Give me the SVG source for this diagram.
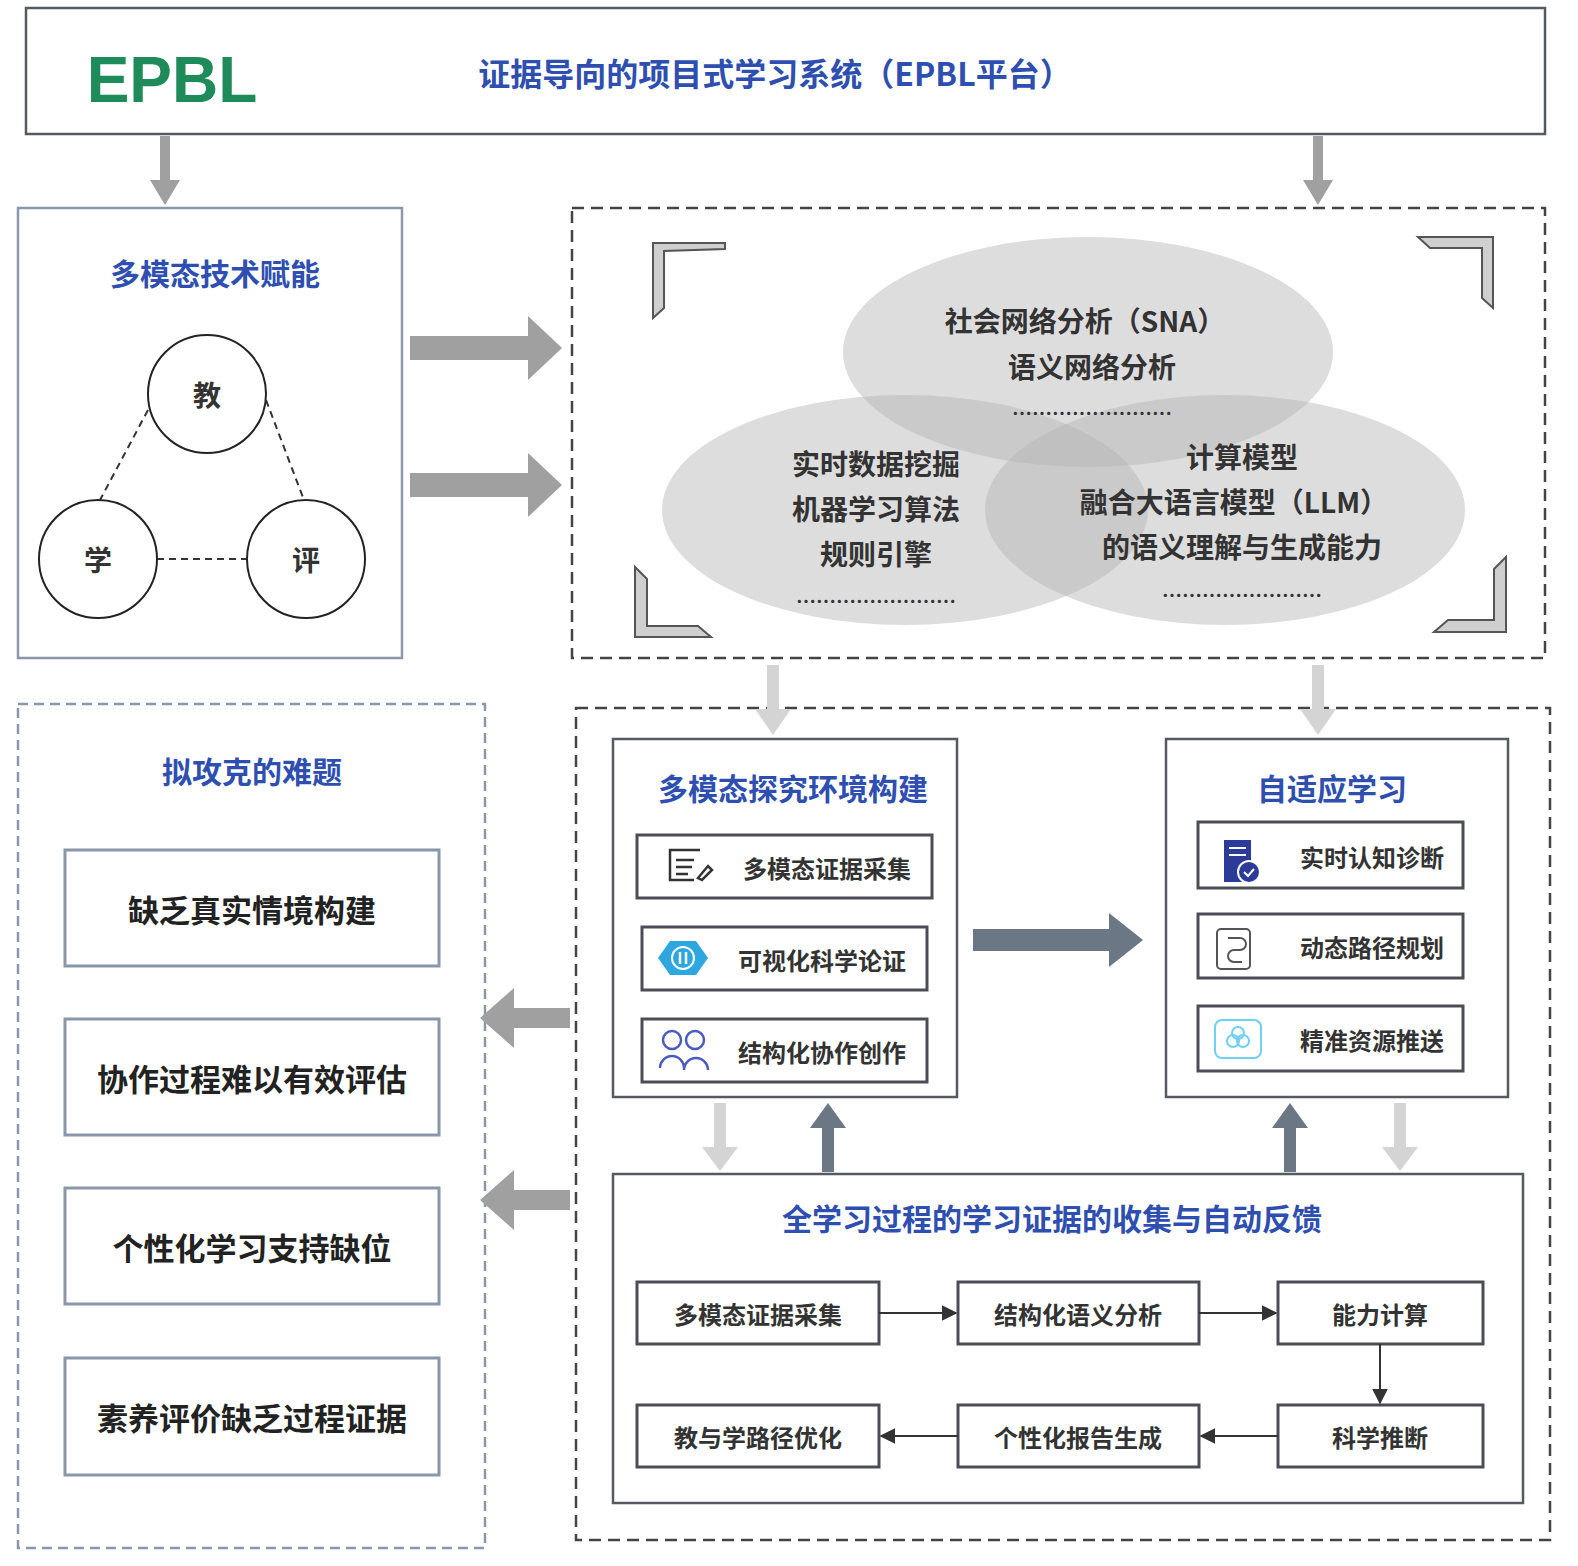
<svg xmlns="http://www.w3.org/2000/svg" width="1578" height="1566" viewBox="0 0 1578 1566">
<defs>
<style>
text{font-family:"Noto Sans CJK SC","Liberation Sans",sans-serif;text-anchor:middle;dominant-baseline:central}
.box{fill:#fff;stroke:#555a60;stroke-width:2.5}
.sub{fill:#fff;stroke:#4a4e54;stroke-width:3}
.dash{fill:none;stroke:#444;stroke-width:2.5;stroke-dasharray:12 7}
.dash2{fill:none;stroke:#8a96aa;stroke-width:2.5;stroke-dasharray:10 6}
.blue{fill:#2f4fb0;font-weight:700;font-size:30px}
.t{fill:#333;font-weight:700;font-size:24px}
.big{fill:#222;font-weight:700;font-size:31px}
.ell{fill:#b4b4b4;fill-opacity:0.45}
.et{fill:#333;font-weight:700;font-size:28px}
.br{fill:#cfcfcf;stroke:#555;stroke-width:2}
</style>
<marker id="ah" viewBox="0 0 10 10" refX="9" refY="5" markerWidth="8" markerHeight="8" orient="auto"><path d="M0,0 L10,5 L0,10z" fill="#333"/></marker>
</defs>

<g id="top"><rect x="26" y="8" width="1519" height="126" class="box"/>
<text x="172" y="80" style="font-size:64px;fill:#1f8a5a;font-family:'Liberation Sans',sans-serif;font-weight:700">EPBL</text>
<text x="775" y="72" class="blue" style="font-size:32px">证据导向的项目式学习系统（EPBL平台）</text></g>

<g id="tech"><rect x="18" y="208" width="384" height="450" fill="#fff" stroke="#8a96aa" stroke-width="2.5"/>
<text x="215" y="272" class="blue">多模态技术赋能</text>
<line x1="148" y1="410" x2="100" y2="500" stroke="#333" stroke-width="2" stroke-dasharray="7 5"/>
<line x1="266" y1="400" x2="304" y2="500" stroke="#333" stroke-width="2" stroke-dasharray="7 5"/>
<line x1="157" y1="559" x2="247" y2="559" stroke="#333" stroke-width="2" stroke-dasharray="7 5"/>
<circle cx="207" cy="394" r="59" fill="#fff" stroke="#222" stroke-width="2"/><text x="207" y="394" class="t" style="font-size:28px">教</text>
<circle cx="98" cy="559" r="59" fill="#fff" stroke="#222" stroke-width="2"/><text x="98" y="559" class="t" style="font-size:28px">学</text>
<circle cx="306" cy="559" r="59" fill="#fff" stroke="#222" stroke-width="2"/><text x="306" y="559" class="t" style="font-size:28px">评</text></g>

<g id="methods"><rect x="572" y="208" width="973" height="450" class="dash"/>
<ellipse cx="1088" cy="352" rx="245" ry="115" class="ell"/>
<ellipse cx="905" cy="510" rx="243" ry="115" class="ell"/>
<ellipse cx="1225" cy="510" rx="240" ry="115" class="ell"/>
<text x="1085" y="320" class="et">社会网络分析（SNA）</text>
<text x="1092" y="366" class="et">语义网络分析</text>
<text x="1092" y="412" class="et" style="font-size:20px">……………………</text>
<text x="876" y="463" class="et">实时数据挖掘</text>
<text x="876" y="508" class="et">机器学习算法</text>
<text x="876" y="553" class="et">规则引擎</text>
<text x="876" y="600" class="et" style="font-size:20px">……………………</text>
<text x="1242" y="456" class="et">计算模型</text>
<text x="1234" y="501" class="et">融合大语言模型（LLM）</text>
<text x="1242" y="546" class="et">的语义理解与生成能力</text>
<text x="1242" y="594" class="et" style="font-size:20px">……………………</text>
<path d="M653,318 L653,243 L725,243 L725,249 L664,251 L664,308 Z" class="br"/>
<path d="M1493,308 L1493,237 L1418,237 L1430,248 L1482,248 L1482,298 Z" class="br"/>
<path d="M635,637 L635,567 L647,579 L647,626 L698,626 L711,637 Z" class="br"/>
<path d="M1506,632 L1506,557 L1494,569 L1494,620 L1448,620 L1434,632 Z" class="br"/></g>

<g id="problems"><rect x="18" y="704" width="467" height="844" class="dash2"/>
<text x="252" y="770" class="blue">拟攻克的难题</text>
<rect x="65" y="850" width="374" height="116" fill="#fff" stroke="#8a96aa" stroke-width="3"/><text x="252" y="908" class="big">缺乏真实情境构建</text>
<rect x="65" y="1019" width="374" height="116" fill="#fff" stroke="#8a96aa" stroke-width="3"/><text x="252" y="1077" class="big">协作过程难以有效评估</text>
<rect x="65" y="1188" width="374" height="116" fill="#fff" stroke="#8a96aa" stroke-width="3"/><text x="252" y="1246" class="big">个性化学习支持缺位</text>
<rect x="65" y="1358" width="374" height="117" fill="#fff" stroke="#8a96aa" stroke-width="3"/><text x="252" y="1416" class="big">素养评价缺乏过程证据</text></g>

<g id="platform"><rect x="576" y="708" width="974" height="832" class="dash"/></g>

<g id="env"><rect x="613" y="739" width="344" height="358" class="box"/>
<text x="793" y="787" class="blue">多模态探究环境构建</text>
<rect x="637" y="835" width="295" height="63" class="sub"/><text x="827" y="867" class="t">多模态证据采集</text>
<g fill="none" stroke="#333" stroke-width="2.5"><path d="M700,850 H670 V880 H694"/><path d="M676,860 H694 M676,867 H692 M676,874 H688"/><path d="M698,878 L708,866 L712,870 L702,880 Z"/></g>
<rect x="642" y="927" width="285" height="63" class="sub"/><text x="822" y="959" class="t">可视化科学论证</text>
<polygon points="670,941 696,941 708,958 696,975 670,975 658,958" fill="#2ea7e0"/>
<circle cx="683" cy="958" r="11" fill="none" stroke="#fff" stroke-width="2"/><path d="M680,952 V964 M686,952 V964" stroke="#fff" stroke-width="2.5"/>
<rect x="642" y="1019" width="285" height="63" class="sub"/><text x="822" y="1051" class="t">结构化协作创作</text>
<g fill="none" stroke="#4a5bc0" stroke-width="2.5"><circle cx="672" cy="1040" r="9"/><circle cx="695" cy="1040" r="9"/><path d="M660,1068 a12,12 0 0 1 24,0 M684,1070 a12,12 0 0 1 24,0"/></g></g>

<g id="adapt"><rect x="1166" y="739" width="342" height="358" class="box"/>
<text x="1332" y="787" class="blue">自适应学习</text>
<rect x="1198" y="822" width="265" height="66" class="sub"/><text x="1372" y="856" class="t">实时认知诊断</text>
<rect x="1224" y="840" width="27" height="42" fill="#2c3a9a"/><path d="M1229,848 H1246 M1229,855 H1246" stroke="#fff" stroke-width="2"/>
<circle cx="1249" cy="872" r="11" fill="#2c3a9a" stroke="#fff" stroke-width="2"/><path d="M1244,872 l4,4 l6,-7" fill="none" stroke="#fff" stroke-width="2"/>
<rect x="1198" y="914" width="265" height="64" class="sub"/><text x="1372" y="946" class="t">动态路径规划</text>
<rect x="1217" y="929" width="33" height="40" rx="4" fill="none" stroke="#555" stroke-width="2"/><path d="M1228,938 h12 a6,6 0 0 1 0,12 h-6 a6,6 0 0 0 0,12 h8" fill="none" stroke="#555" stroke-width="2"/>
<rect x="1198" y="1006" width="265" height="65" class="sub"/><text x="1372" y="1039" class="t">精准资源推送</text>
<rect x="1215" y="1020" width="46" height="38" rx="7" fill="none" stroke="#6fd0f5" stroke-width="2"/><circle cx="1233" cy="1041" r="6" fill="none" stroke="#6fd0f5" stroke-width="2"/><circle cx="1243" cy="1041" r="6" fill="none" stroke="#6fd0f5" stroke-width="2"/><circle cx="1238" cy="1033" r="6" fill="none" stroke="#6fd0f5" stroke-width="2"/></g>

<g id="feedback"><rect x="613" y="1174" width="910" height="329" class="box"/>
<text x="1052" y="1217" class="blue">全学习过程的学习证据的收集与自动反馈</text>
<rect x="637" y="1282" width="242" height="62" class="sub"/><text x="758" y="1313" class="t">多模态证据采集</text>
<rect x="958" y="1282" width="241" height="62" class="sub"/><text x="1078" y="1313" class="t">结构化语义分析</text>
<rect x="1278" y="1282" width="205" height="62" class="sub"/><text x="1380" y="1313" class="t">能力计算</text>
<rect x="637" y="1405" width="242" height="62" class="sub"/><text x="758" y="1436" class="t">教与学路径优化</text>
<rect x="958" y="1405" width="241" height="62" class="sub"/><text x="1078" y="1436" class="t">个性化报告生成</text>
<rect x="1278" y="1405" width="205" height="62" class="sub"/><text x="1380" y="1436" class="t">科学推断</text></g>

<g id="connectors">
<g fill="#a0a0a0"><path d="M160,136 h10 v44 h10 l-15,25 l-15,-25 h10z"/><path d="M1313,136 h10 v44 h10 l-15,25 l-15,-25 h10z"/>
<path d="M410,336 h118 v-20 l34,32 l-34,32 v-20 h-118z"/><path d="M410,473 h118 v-20 l34,32 l-34,32 v-20 h-118z"/>
<path d="M570,1008 h-56 v-20 l-34,30 l34,30 v-20 h56z"/><path d="M570,1190 h-56 v-20 l-34,30 l34,30 v-20 h56z"/></g>
<g fill="#d4d4d4"><path d="M767,665 h12 v44 h12 l-18,26 l-18,-26 h12z"/><path d="M1312,665 h12 v44 h12 l-18,26 l-18,-26 h12z"/>
<path d="M714,1103 h12 v44 h12 l-18,24 l-18,-24 h12z"/><path d="M1394,1103 h12 v44 h12 l-18,24 l-18,-24 h12z"/></g>
<g fill="#6c7785"><path d="M973,929 h136 v-16 l34,27 l-34,27 v-16 h-136z"/>
<path d="M822,1172 v-44 h-12 l18,-25 l18,25 h-12 v44z"/><path d="M1284,1172 v-44 h-12 l18,-25 l18,25 h-12 v44z"/></g>
<g stroke="#333" stroke-width="2" marker-end="url(#ah)"><line x1="879" y1="1313" x2="956" y2="1313"/><line x1="1199" y1="1313" x2="1276" y2="1313"/><line x1="1380" y1="1344" x2="1380" y2="1403"/><line x1="1278" y1="1436" x2="1201" y2="1436"/><line x1="958" y1="1436" x2="881" y2="1436"/></g>
</g>
</svg>
